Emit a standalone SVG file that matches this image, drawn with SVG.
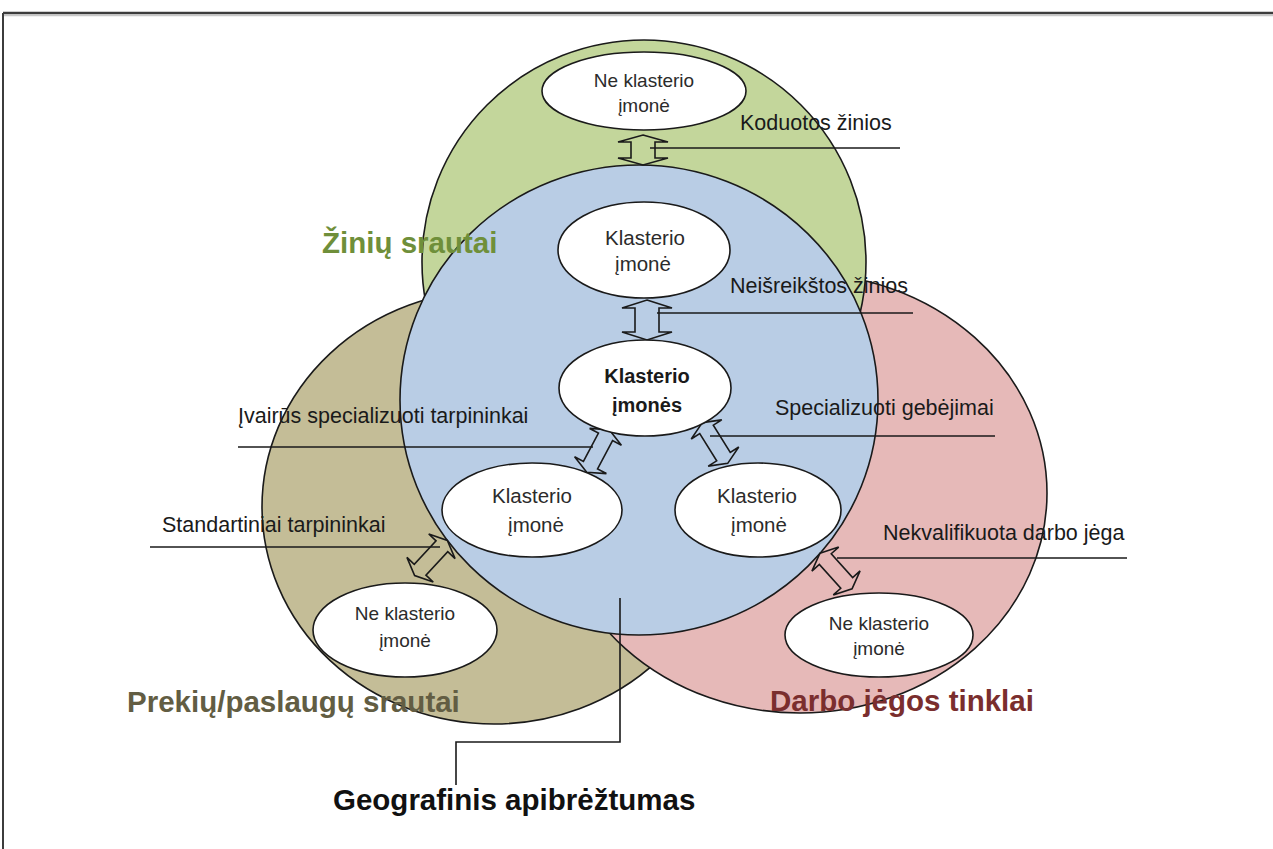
<svg xmlns="http://www.w3.org/2000/svg" width="1273" height="849" viewBox="0 0 1273 849">
<style>
.circ{stroke:#1a1a1a;stroke-width:1.6}
.node ellipse{fill:#ffffff;stroke:#1a1a1a;stroke-width:1.6}
.nt{font-family:"Liberation Sans",Arial,sans-serif;font-size:20.5px;fill:#2b2b2b;text-anchor:middle}
.ntn{font-family:"Liberation Sans",Arial,sans-serif;font-size:19px;fill:#2b2b2b;text-anchor:middle}
.ntb{font-family:"Liberation Sans",Arial,sans-serif;font-size:20px;font-weight:bold;fill:#1a1a1a;text-anchor:middle}
.lbl{font-family:"Liberation Sans",Arial,sans-serif;font-size:21.5px;fill:#1a1a1a}
.big{font-family:"Liberation Sans",Arial,sans-serif;font-size:29.5px;font-weight:bold}
.conn line,.conn polyline{stroke:#1a1a1a;stroke-width:1.6;fill:none}
.arr{fill:none;stroke:#1a1a1a;stroke-width:1.6;stroke-linejoin:miter}
</style>
<defs>
<path id="darr" d="M0,-24 L18,-16 L8,-16 L8,16 L18,16 L0,24 L-18,16 L-8,16 L-8,-16 L-18,-16 Z"/>
</defs>
<rect x="0" y="0" width="1273" height="849" fill="#ffffff"/>
<g id="frame">
<line x1="3" y1="15.5" x2="1273" y2="15.5" stroke="#c8c8c8" stroke-width="1.5"/>
<line x1="3" y1="13" x2="1273" y2="13" stroke="#3c3c3c" stroke-width="2.5"/>
<line x1="3" y1="13" x2="3" y2="849" stroke="#3c3c3c" stroke-width="2"/>
</g>
<g id="areas">
<ellipse id="prekiu" class="circ" cx="494" cy="507" rx="232" ry="217" fill="#c4bd97"/>
<ellipse id="darbo" class="circ" cx="800" cy="493" rx="247" ry="220" fill="#e6b9b8"/>
<circle id="ziniu" class="circ" cx="644" cy="262" r="222" fill="#c3d69b"/>
<ellipse id="geo" class="circ" cx="639" cy="400" rx="239" ry="235" fill="#b9cde5"/>
</g>
<g id="area-labels">
<text class="big" x="322" y="253" fill="#6f8f3a">Žinių srautai</text>
<text class="big" x="127" y="712" fill="#625d43">Prekių/paslaugų srautai</text>
<text class="big" x="770" y="711" fill="#7a2e2e">Darbo jėgos tinklai</text>
<text class="big" x="333" y="810" fill="#111111">Geografinis apibrėžtumas</text>
</g>
<g id="connectors">
<g class="conn">
<line x1="650" y1="148" x2="900" y2="148"/>
<line x1="657" y1="313" x2="913" y2="313"/>
<line x1="238" y1="447" x2="593" y2="447"/>
<line x1="710" y1="436" x2="995" y2="436"/>
<line x1="150" y1="547" x2="440" y2="547"/>
<line x1="837" y1="558" x2="1127" y2="558"/>
<polyline points="620,598 620,742 456,742 456,785"/>
</g>
<path class="arr" transform="translate(643,150)" d="M0,-15 L25,-8 L12,-8 L12,8 L25,8 L0,15 L-25,8 L-12,8 L-12,-8 L-25,-8 Z"/>
<path class="arr" transform="translate(647,320)" d="M0,-20 L25,-12 L12,-12 L12,12 L25,12 L0,20 L-25,12 L-12,12 L-12,-12 L-25,-12 Z"/>
<use href="#darr" class="arr" transform="translate(598,451) rotate(28)"/>
<use href="#darr" class="arr" transform="translate(715,443) rotate(-32)"/>
<use href="#darr" class="arr" transform="translate(431,558) rotate(43)"/>
<use href="#darr" class="arr" transform="translate(836,571) rotate(-42)"/>
</g>
<g id="connector-labels">
<text class="lbl" x="740" y="130">Koduotos žinios</text>
<text class="lbl" x="730" y="293">Neišreikštos žinios</text>
<text class="lbl" x="238" y="423">Įvairūs specializuoti tarpininkai</text>
<text class="lbl" x="775" y="415">Specializuoti gebėjimai</text>
<text class="lbl" x="162" y="532">Standartiniai tarpininkai</text>
<text class="lbl" x="883" y="540">Nekvalifikuota darbo jėga</text>
</g>
<g id="n-top" class="node">
<ellipse cx="644" cy="91" rx="102" ry="39"/>
<text class="ntn" x="644" y="87">Ne klasterio</text>
<text class="ntn" x="644" y="112">įmonė</text>
</g>
<g id="n-cluster1" class="node">
<ellipse cx="644" cy="250" rx="86" ry="48"/>
<text class="nt" x="645" y="245">Klasterio</text>
<text class="nt" x="643" y="271">įmonė</text>
</g>
<g id="n-cluster-main" class="node">
<ellipse cx="645" cy="388" rx="86" ry="48"/>
<text class="ntb" x="647" y="383">Klasterio</text>
<text class="ntb" x="647" y="412">įmonės</text>
</g>
<g id="n-cluster-left" class="node">
<ellipse cx="532" cy="510" rx="90" ry="47"/>
<text class="nt" x="532" y="503">Klasterio</text>
<text class="nt" x="536" y="532">įmonė</text>
</g>
<g id="n-cluster-right" class="node">
<ellipse cx="758" cy="510" rx="83" ry="47"/>
<text class="nt" x="757" y="503">Klasterio</text>
<text class="nt" x="759" y="532">įmonė</text>
</g>
<g id="n-bottom-left" class="node">
<ellipse cx="405" cy="630" rx="92" ry="47"/>
<text class="ntn" x="405" y="620">Ne klasterio</text>
<text class="ntn" x="405" y="647">įmonė</text>
</g>
<g id="n-bottom-right" class="node">
<ellipse cx="879" cy="635" rx="94" ry="42"/>
<text class="ntn" x="879" y="630">Ne klasterio</text>
<text class="ntn" x="879" y="655">įmonė</text>
</g>
</svg>
